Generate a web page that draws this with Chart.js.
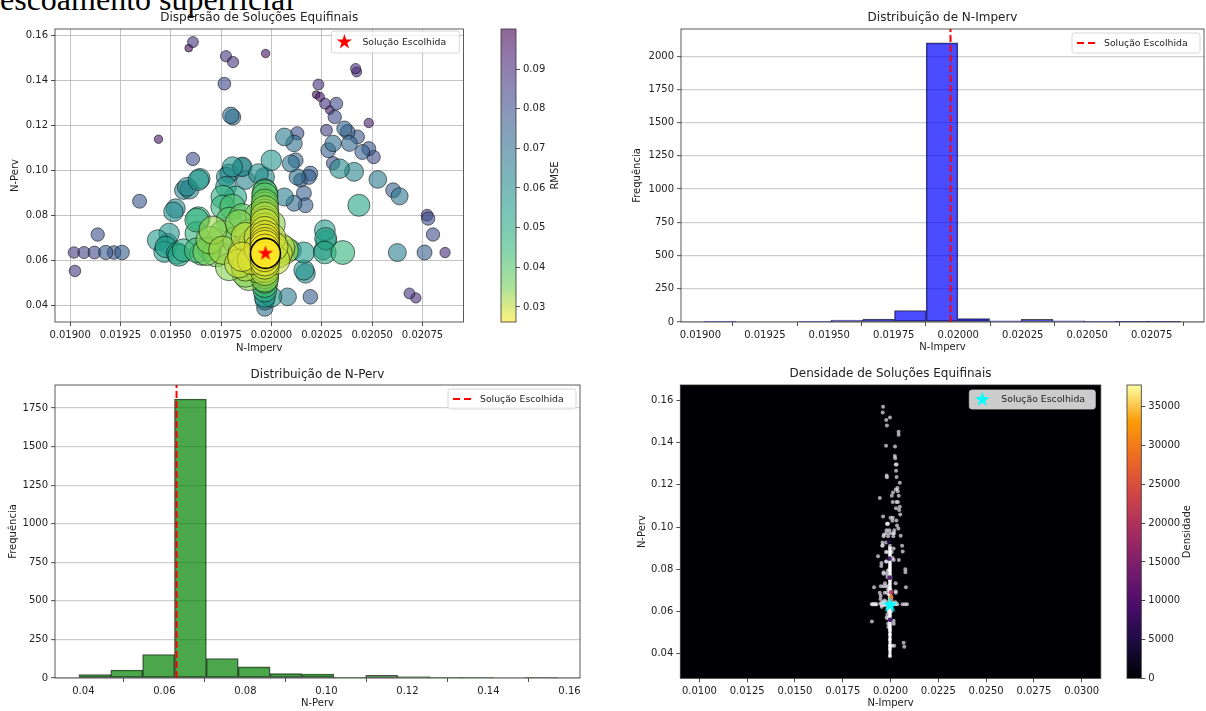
<!DOCTYPE html>
<html lang="pt">
<head>
<meta charset="utf-8">
<title>Soluções Equifinais</title>
<script src="https://cdn.jsdelivr.net/npm/chart.js@4.4.1/dist/chart.umd.min.js"></script>
<style>
  html, body { margin: 0; padding: 0; background: #fff; }
  #page { position: relative; width: 1206px; height: 711px; overflow: hidden; }
  #page canvas { position: absolute; }
  #heading {
    position: absolute; left: 0; top: -19px; line-height: 40px; white-space: nowrap;
    font: 32px "Liberation Serif", "Times New Roman", serif; color: #000;
  }
</style>
</head>
<body>
<div id="page">
  <div id="heading">escoamento superficial</div>
  <canvas id="scatter-chart" style="left:0;top:0" width="480" height="360"></canvas>
  <canvas id="rmse-bar" style="left:480px;top:0" width="120" height="360"></canvas>
  <canvas id="imperv-hist" style="left:600px;top:0" width="606" height="360"></canvas>
  <canvas id="perv-hist" style="left:0;top:350px" width="600" height="361"></canvas>
  <canvas id="density-chart" style="left:600px;top:350px" width="510" height="361"></canvas>
  <canvas id="density-bar" style="left:1110px;top:350px" width="96" height="361"></canvas>
</div>
<script>
'use strict';

// ********** DATA **********

// candidate solutions: N-Imperv, N-Perv and their RMSE
let solImperv = [
  0.019019, 0.019024, 0.019069, 0.019121, 0.019137, 0.019177, 0.019218, 0.019258, 0.019345, 0.019439,
  0.019610, 0.019589, 0.019610, 0.019774, 0.019809, 0.019766, 0.019971, 0.019798, 0.019808, 0.019593,
  0.019564, 0.019637, 0.019513, 0.019435, 0.019475, 0.019540, 0.019492, 0.019468, 0.019524, 0.019484,
  0.019532, 0.019580, 0.019645, 0.019637, 0.019629, 0.019693, 0.019653, 0.019629, 0.019629, 0.019564,
  0.019790, 0.019855, 0.019935, 0.019999, 0.019774, 0.019822, 0.019774, 0.019806, 0.019855, 0.019871,
  0.019967, 0.019758, 0.019790, 0.019855, 0.019887, 0.019822, 0.019758, 0.019725, 0.019855, 0.019903,
  0.019871, 0.019887, 0.019677, 0.019709, 0.019758, 0.019806, 0.019838, 0.019871, 0.019838, 0.019871,
  0.019855, 0.019758, 0.019790, 0.019693, 0.019967, 0.019967, 0.019967, 0.019967, 0.019967, 0.019967,
  0.019967, 0.019967, 0.019967, 0.019967, 0.019967, 0.019967, 0.019967, 0.019967, 0.019967, 0.019967,
  0.019935, 0.020000, 0.020032, 0.020064, 0.019999, 0.020080, 0.020096, 0.020161, 0.020193, 0.020272,
  0.020257, 0.020161, 0.020064, 0.020096, 0.020128, 0.020193, 0.020064, 0.020112, 0.020128, 0.020306,
  0.020418, 0.020423, 0.020233, 0.020222, 0.020241, 0.020266, 0.020322, 0.020290, 0.020314, 0.020483,
  0.020362, 0.020378, 0.020273, 0.020427, 0.020387, 0.020306, 0.020483, 0.020282, 0.020451, 0.020507,
  0.020338, 0.020410, 0.020185, 0.020528, 0.020604, 0.020636, 0.020434, 0.020169, 0.020773, 0.020778,
  0.020802, 0.020862, 0.020760, 0.020625, 0.020354, 0.020265, 0.020269, 0.020265, 0.020161, 0.020169,
  0.020685, 0.020717, 0.020120, 0.020145, 0.020112, 0.019967, 0.019967, 0.019967, 0.019967, 0.019967,
  0.019967, 0.019967, 0.019967, 0.019967, 0.019967, 0.019967, 0.019967, 0.019967, 0.019967, 0.019967,
  0.019935, 0.019935, 0.019920, 0.019935, 0.019910, 0.020010, 0.020020, 0.020000, 0.020045
];
let solPerv = [
  0.0634, 0.0552, 0.0634, 0.0634, 0.0714, 0.0634, 0.0634, 0.0634, 0.0862, 0.1138,
  0.1050, 0.1543, 0.1570, 0.1507, 0.1481, 0.1385, 0.1519, 0.1244, 0.1236, 0.0914,
  0.0911, 0.0956, 0.0815, 0.0689, 0.0659, 0.0622, 0.0719, 0.0637, 0.0830, 0.0674,
  0.0630, 0.0926, 0.0963, 0.0785, 0.0719, 0.0652, 0.0630, 0.0778, 0.0644, 0.0644,
  0.0985, 0.1015, 0.0985, 0.1044, 0.0926, 0.0881, 0.0970, 0.1015, 0.1015, 0.0956,
  0.0970, 0.0837, 0.0778, 0.0793, 0.0719, 0.0689, 0.0719, 0.0630, 0.0630, 0.0600,
  0.0570, 0.0526, 0.0637, 0.0733, 0.0881, 0.0837, 0.0763, 0.0704, 0.0585, 0.0541,
  0.0615, 0.0644, 0.0570, 0.0689, 0.0911, 0.0870, 0.0844, 0.0810, 0.0778, 0.0745,
  0.0711, 0.0667, 0.0595, 0.0564, 0.0535, 0.0511, 0.0467, 0.0437, 0.0422, 0.0387,
  0.0800, 0.0760, 0.0630, 0.0644, 0.0437, 0.0437, 0.0644, 0.0556, 0.0437, 0.0689,
  0.0644, 0.0898, 0.0881, 0.1030, 0.0970, 0.0985, 0.1148, 0.1119, 0.1164, 0.1031,
  0.1452, 0.1437, 0.1381, 0.1336, 0.1326, 0.1296, 0.1296, 0.1267, 0.1237, 0.1210,
  0.1185, 0.1170, 0.1178, 0.1148, 0.1119, 0.1119, 0.1096, 0.1089, 0.1081, 0.1059,
  0.1007, 0.0993, 0.0970, 0.0959, 0.0911, 0.0884, 0.0844, 0.0844, 0.0800, 0.0785,
  0.0714, 0.0634, 0.0634, 0.0634, 0.0634, 0.0634, 0.0696, 0.0733, 0.0634, 0.0541,
  0.0452, 0.0432, 0.1044, 0.0956, 0.0853, 0.0900, 0.0885, 0.0855, 0.0825, 0.0795,
  0.0765, 0.0730, 0.0695, 0.0680, 0.0650, 0.0615, 0.0580, 0.0550, 0.0520, 0.0490,
  0.0700, 0.0650, 0.0600, 0.0560, 0.0680, 0.0660, 0.0600, 0.0700, 0.0655
];
let solRmse = [
  0.086, 0.086, 0.084, 0.082, 0.080, 0.077, 0.079, 0.076, 0.078, 0.096,
  0.080, 0.098, 0.088, 0.087, 0.087, 0.082, 0.096, 0.070, 0.072, 0.062,
  0.064, 0.056, 0.060, 0.056, 0.054, 0.052, 0.057, 0.055, 0.061, 0.058,
  0.053, 0.062, 0.058, 0.047, 0.047, 0.044, 0.046, 0.046, 0.043, 0.049,
  0.062, 0.060, 0.059, 0.057, 0.056, 0.052, 0.061, 0.058, 0.066, 0.063,
  0.061, 0.046, 0.040, 0.038, 0.034, 0.035, 0.038, 0.036, 0.031, 0.029,
  0.031, 0.034, 0.035, 0.033, 0.047, 0.041, 0.034, 0.030, 0.030, 0.034,
  0.028, 0.032, 0.034, 0.034, 0.048, 0.042, 0.037, 0.034, 0.032, 0.030,
  0.028, 0.027, 0.028, 0.031, 0.034, 0.038, 0.046, 0.055, 0.060, 0.070,
  0.036, 0.034, 0.030, 0.032, 0.056, 0.066, 0.055, 0.058, 0.076, 0.058,
  0.062, 0.075, 0.065, 0.068, 0.070, 0.075, 0.066, 0.070, 0.080, 0.080,
  0.090, 0.091, 0.088, 0.098, 0.094, 0.088, 0.082, 0.095, 0.080, 0.093,
  0.074, 0.075, 0.085, 0.078, 0.072, 0.070, 0.078, 0.075, 0.075, 0.080,
  0.060, 0.062, 0.075, 0.066, 0.075, 0.068, 0.052, 0.075, 0.085, 0.080,
  0.080, 0.090, 0.075, 0.065, 0.046, 0.050, 0.052, 0.056, 0.055, 0.060,
  0.088, 0.090, 0.075, 0.078, 0.072, 0.040, 0.038, 0.035, 0.033, 0.031,
  0.030, 0.029, 0.028, 0.028, 0.027, 0.027, 0.029, 0.031, 0.034, 0.042,
  0.030, 0.029, 0.031, 0.033, 0.031, 0.029, 0.030, 0.030, 0.031
];

// chosen solution
let chosenImperv = 0.01997;
let chosenPerv = 0.0630;
let chosenRmse = 0.0262;

// RMSE colour range
let rmseMin = 0.0262;
let rmseMax = 0.1001;
let rmseTicks = [0.03, 0.04, 0.05, 0.06, 0.07, 0.08, 0.09];

// tick labels
let impervTicks = [0.019, 0.01925, 0.0195, 0.01975, 0.02, 0.02025, 0.0205, 0.02075];
let pervTicks = [0.04, 0.06, 0.08, 0.10, 0.12, 0.14, 0.16];
let pervHistTicks = [0.04, 0.06, 0.08, 0.10, 0.12, 0.14, 0.16];
let freqTicksImperv = [0, 250, 500, 750, 1000, 1250, 1500, 1750, 2000];
let freqTicksPerv = [0, 250, 500, 750, 1000, 1250, 1500, 1750];
let densImpervTicks = [0.0100, 0.0125, 0.0150, 0.0175, 0.0200, 0.0225, 0.0250, 0.0275, 0.0300];
let densityTicks = [0, 5000, 10000, 15000, 20000, 25000, 30000, 35000];

// N-Imperv histogram (15 bins)
let impervBinStart = 0.0190154;
let impervBinEnd = 0.020859;
let impervCounts = [5, 0, 0, 4, 14, 22, 86, 2100, 25, 8, 20, 9, 4, 3, 3];

// N-Perv histogram (15 bins)
let pervBinStart = 0.0389;
let pervBinEnd = 0.1569;
let pervCounts = [22, 52, 152, 1809, 126, 72, 28, 26, 3, 17, 10, 4, 4, 0, 5];

// density map: dense ridge of solutions and its hottest spots
let ridgeImperv = 0.01997;
let ridgePerv = [0.0385, 0.0905];
let peakImperv = [0.02003, 0.02003, 0.02001, 0.01996, 0.01994, 0.01992, 0.01998];
let peakPerv = [0.0668, 0.0690, 0.0650, 0.0760, 0.0850, 0.0930, 0.0560];
let peakDensity = [30000, 21000, 26000, 9000, 7000, 5000, 8000];
let densityMax = 37800;

// ********** STYLE HELPERS **********

const FONT = '"DejaVu Sans", "Noto Sans", sans-serif';
const TXT = '#222';
const VIRIDIS = ['#440154', '#482878', '#3e4989', '#31688e', '#26828e', '#1f9e89', '#35b779', '#6ece58', '#fde725'];
const INFERNO = ['#000004', '#1b0c41', '#4a0c6b', '#781c6d', '#a52c60', '#cf4446', '#ed6925', '#fb9b06', '#fcffa4'];

Chart.defaults.font.family = FONT;
Chart.defaults.color = TXT;

function hexRgb(h) {
  return [parseInt(h.slice(1, 3), 16), parseInt(h.slice(3, 5), 16), parseInt(h.slice(5, 7), 16)];
}

function cmap(stops, t, alpha) {
  t = Math.max(0, Math.min(1, t));
  let pos = t * (stops.length - 1);
  let i = Math.min(Math.floor(pos), stops.length - 2);
  let f = pos - i;
  let a = hexRgb(stops[i]);
  let b = hexRgb(stops[i + 1]);
  let c = a.map((v, k) => Math.round(v + (b[k] - v) * f));
  return `rgba(${c[0]},${c[1]},${c[2]},${alpha})`;
}

// reversed viridis: low RMSE is yellow
function rmseColor(rmse, alpha) {
  return cmap(VIRIDIS, 1 - (rmse - rmseMin) / (rmseMax - rmseMin), alpha);
}

// better solutions get bigger markers
function bubbleSize(rmse) {
  return 3.6 + 11.4 * (rmseMax - rmse) / (rmseMax - rmseMin);
}

function drawStar(ctx, cx, cy, R, color) {
  let r = R * 0.382;
  ctx.beginPath();
  for (let k = 0; k < 10; k++) {
    let rad = k % 2 ? r : R;
    let ang = -Math.PI / 2 + k * Math.PI / 5;
    let px = cx + rad * Math.cos(ang);
    let py = cy + rad * Math.sin(ang);
    if (k) ctx.lineTo(px, py); else ctx.moveTo(px, py);
  }
  ctx.closePath();
  ctx.fillStyle = color;
  ctx.fill();
}

function starImage(R, color) {
  let c = document.createElement('canvas');
  c.width = c.height = Math.ceil(2 * R + 2);
  drawStar(c.getContext('2d'), c.width / 2, c.height / 2, R, color);
  return c;
}

function roundRectPath(ctx, x, y, w, h, r) {
  ctx.beginPath();
  ctx.moveTo(x + r, y);
  ctx.lineTo(x + w - r, y);
  ctx.arcTo(x + w, y, x + w, y + r, r);
  ctx.lineTo(x + w, y + h - r);
  ctx.arcTo(x + w, y + h, x + w - r, y + h, r);
  ctx.lineTo(x + r, y + h);
  ctx.arcTo(x, y + h, x, y + h - r, r);
  ctx.lineTo(x, y + r);
  ctx.arcTo(x, y, x + r, y, r);
  ctx.closePath();
}

// linear axis with fixed ticks and a fixed box size
function linAxis(o) {
  return {
    type: 'linear',
    position: o.position,
    min: o.min,
    max: o.max,
    afterBuildTicks: scale => { scale.ticks = o.ticks.map(v => ({ value: v })); },
    afterFit: scale => {
      if (scale.isHorizontal()) scale.height = o.size; else scale.width = o.size;
    },
    ticks: { callback: o.fmt, color: TXT, font: { size: 10 }, padding: 3, autoSkip: false, maxRotation: 0, minRotation: 0 },
    grid: {
      drawOnChartArea: !!o.grid,
      color: o.grid || 'rgba(0,0,0,0)',
      lineWidth: o.gridWidth || 1,
      drawTicks: true,
      tickLength: 4,
      tickColor: TXT,
      tickWidth: 0.8
    },
    border: { display: false },
    title: o.title
      ? { display: true, text: o.title, color: TXT, font: { size: 10 }, padding: o.titlePad }
      : { display: false }
  };
}

// ********** PLUGINS **********

// dark background for the density map
const plotBg = {
  id: 'plotBg',
  beforeDraw(chart, args, o) {
    if (!o || !o.color) return;
    let a = chart.chartArea;
    chart.ctx.save();
    chart.ctx.fillStyle = o.color;
    chart.ctx.fillRect(a.left, a.top, a.right - a.left, a.bottom - a.top);
    chart.ctx.restore();
  }
};

// axes spines
const frame = {
  id: 'frame',
  afterDatasetsDraw(chart) {
    let a = chart.chartArea;
    let ctx = chart.ctx;
    ctx.save();
    ctx.strokeStyle = '#333';
    ctx.lineWidth = 0.8;
    ctx.strokeRect(a.left, a.top, a.right - a.left, a.bottom - a.top);
    ctx.restore();
  }
};

const panelTitle = {
  id: 'panelTitle',
  afterDraw(chart, args, o) {
    if (!o || !o.text) return;
    let a = chart.chartArea;
    let ctx = chart.ctx;
    ctx.save();
    ctx.font = `12px ${FONT}`;
    ctx.fillStyle = TXT;
    ctx.textAlign = 'center';
    ctx.textBaseline = 'middle';
    ctx.fillText(o.text, (a.left + a.right) / 2, a.top - o.gap);
    ctx.restore();
  }
};

// colorbar label, reading bottom to top
const sideLabel = {
  id: 'sideLabel',
  afterDraw(chart, args, o) {
    if (!o || !o.text) return;
    let a = chart.chartArea;
    let ctx = chart.ctx;
    ctx.save();
    ctx.translate(o.x, (a.top + a.bottom) / 2);
    ctx.rotate(-Math.PI / 2);
    ctx.font = `10px ${FONT}`;
    ctx.fillStyle = TXT;
    ctx.textAlign = 'center';
    ctx.textBaseline = 'middle';
    ctx.fillText(o.text, 0, 0);
    ctx.restore();
  }
};

// framed legend in the upper right corner of the plot
const boxLegend = {
  id: 'boxLegend',
  afterDraw(chart, args, o) {
    if (!o || !o.text) return;
    let a = chart.chartArea;
    let ctx = chart.ctx;
    let x = a.right - o.right - o.width;
    let y = a.top + o.top;
    let cy = y + o.height / 2;
    ctx.save();
    roundRectPath(ctx, x, y, o.width, o.height, 2.5);
    ctx.fillStyle = o.fill;
    ctx.fill();
    ctx.lineWidth = 0.8;
    ctx.strokeStyle = '#cccccc';
    ctx.stroke();
    if (o.marker === 'dash') {
      ctx.beginPath();
      ctx.setLineDash([7, 4]);
      ctx.moveTo(x + 5, cy);
      ctx.lineTo(x + 23, cy);
      ctx.strokeStyle = o.color;
      ctx.lineWidth = 2;
      ctx.stroke();
      ctx.setLineDash([]);
    } else {
      drawStar(ctx, x + 13, cy, 8, o.color);
    }
    ctx.font = `9.3px ${FONT}`;
    ctx.fillStyle = TXT;
    ctx.textAlign = 'left';
    ctx.textBaseline = 'middle';
    ctx.fillText(o.text, x + o.textX, cy + 0.5);
    ctx.restore();
  }
};

Chart.register(plotBg, frame, panelTitle, sideLabel, boxLegend);

function baseOptions(padding) {
  return {
    responsive: false,
    animation: false,
    events: [],
    layout: { padding: padding },
    plugins: { legend: { display: false }, tooltip: { enabled: false } }
  };
}

// ********** SCATTER: DISPERSÃO DE SOLUÇÕES EQUIFINAIS **********

let order = solRmse.map((v, i) => i).sort((a, b) => solRmse[b] - solRmse[a]);
let cloud = order.map(i => ({ x: solImperv[i], y: solPerv[i], r: bubbleSize(solRmse[i]) }));
let cloudColors = order.map(i => rmseColor(solRmse[i], 0.6));

let scatterOpts = baseOptions({ top: 29, right: 5, left: 0, bottom: 0 });
scatterOpts.plugins.panelTitle = { text: 'Dispersão de Soluções Equifinais', gap: 11 };
scatterOpts.plugins.boxLegend = { text: 'Solução Escolhida', marker: 'star', color: 'red', fill: 'rgba(255,255,255,0.8)', width: 128, height: 22, right: 4, top: 2, textX: 31 };
scatterOpts.scales = {
  x: linAxis({ position: 'bottom', min: 0.018925, max: 0.020953, ticks: impervTicks, fmt: v => v.toFixed(5), size: 38,
    grid: 'rgba(176,176,176,0.75)', title: 'N-Imperv', titlePad: { top: 0, bottom: 6 } }),
  y: linAxis({ position: 'left', min: 0.0325, max: 0.1628, ticks: pervTicks, fmt: v => v.toFixed(2), size: 55,
    grid: 'rgba(176,176,176,0.75)', title: 'N-Perv', titlePad: { top: 9, bottom: 0 } })
};

new Chart(document.getElementById('scatter-chart'), {
  type: 'bubble',
  data: {
    datasets: [
      { data: [{ x: chosenImperv, y: chosenPerv, r: 8 }], pointStyle: starImage(8, 'red'), borderWidth: 0 },
      { data: [{ x: chosenImperv, y: chosenPerv, r: 15 }], backgroundColor: rmseColor(chosenRmse, 0.9), borderColor: '#000', borderWidth: 1.6 },
      { data: cloud, backgroundColor: cloudColors, borderColor: 'rgba(0,0,0,0.6)', borderWidth: 0.9 }
    ]
  },
  options: scatterOpts
});

// RMSE colorbar
let rmseBarOpts = baseOptions({ top: 29, left: 21, right: 0, bottom: 38 });
rmseBarOpts.plugins.sideLabel = { text: 'RMSE', x: 75 };
rmseBarOpts.scales = {
  x: { display: false },
  y: linAxis({ position: 'right', min: rmseMin, max: rmseMax, ticks: rmseTicks, fmt: v => v.toFixed(2), size: 84 })
};

new Chart(document.getElementById('rmse-bar'), {
  type: 'bar',
  data: {
    labels: ['RMSE'],
    datasets: [{
      data: [[rmseMin, rmseMax]],
      barPercentage: 1,
      categoryPercentage: 1,
      borderWidth: 0,
      backgroundColor: c => {
        let a = c.chart.chartArea;
        if (!a) return 'rgba(0,0,0,0)';
        let g = c.chart.ctx.createLinearGradient(0, a.bottom, 0, a.top);
        VIRIDIS.forEach((col, i) => g.addColorStop(i / (VIRIDIS.length - 1), cmap(VIRIDIS, 1 - i / (VIRIDIS.length - 1), 0.6)));
        return g;
      }
    }]
  },
  options: rmseBarOpts
});

// ********** HISTOGRAMS **********

function histData(start, end, counts) {
  let w = (end - start) / counts.length;
  return counts.map((c, i) => ({ x: start + (i + 0.5) * w, y: c }));
}

function histChart(el, o) {
  let opts = baseOptions(o.padding);
  opts.plugins.panelTitle = { text: o.title, gap: o.titleGap };
  opts.plugins.boxLegend = { text: 'Solução Escolhida', marker: 'dash', color: 'red', fill: 'rgba(255,255,255,0.8)', width: 128, height: 20, right: 4, top: 4, textX: 32 };
  opts.scales = {
    x: Object.assign(linAxis(o.x), { offset: false }),
    y: linAxis(o.y)
  };
  return new Chart(el, {
    type: 'bar',
    data: {
      datasets: [
        {
          type: 'line',
          data: [{ x: o.chosen, y: 0 }, { x: o.chosen, y: o.y.max }],
          borderColor: 'red',
          borderWidth: 2,
          borderDash: [7, 3],
          pointRadius: 0
        },
        {
          type: 'bar',
          data: o.bins,
          backgroundColor: o.color,
          borderColor: 'rgba(0,0,0,0.7)',
          borderWidth: 0.9,
          borderSkipped: false,
          barPercentage: 1,
          categoryPercentage: 1
        }
      ]
    },
    options: opts
  });
}

histChart(document.getElementById('imperv-hist'), {
  title: 'Distribuição de N-Imperv',
  titleGap: 11,
  padding: { top: 29, right: 2, left: 0, bottom: 0 },
  chosen: chosenImperv,
  bins: histData(impervBinStart, impervBinEnd, impervCounts),
  color: 'rgba(0,0,255,0.7)',
  x: { position: 'bottom', min: 0.018925, max: 0.020953, ticks: impervTicks, fmt: v => v.toFixed(5), size: 38,
    title: 'N-Imperv', titlePad: { top: 0, bottom: 6.3 } },
  y: { position: 'left', min: 0, max: 2205, ticks: freqTicksImperv, fmt: v => String(v), size: 81,
    grid: 'rgba(190,190,190,0.75)', gridWidth: 1.3, title: 'Frequência', titlePad: { top: 31.3, bottom: 0 } }
});

histChart(document.getElementById('perv-hist'), {
  title: 'Distribuição de N-Perv',
  titleGap: 10,
  padding: { top: 35, right: 20, left: 0, bottom: 0 },
  chosen: chosenPerv,
  bins: histData(pervBinStart, pervBinEnd, pervCounts),
  color: 'rgba(0,128,0,0.7)',
  x: { position: 'bottom', min: 0.0330, max: 0.1626, ticks: pervHistTicks, fmt: v => v.toFixed(2), size: 33,
    title: 'N-Perv', titlePad: { top: 0, bottom: 1.7 } },
  y: { position: 'left', min: 0, max: 1900, ticks: freqTicksPerv, fmt: v => String(v), size: 55,
    grid: 'rgba(190,190,190,0.75)', gridWidth: 1.3, title: 'Frequência', titlePad: { top: 7.3, bottom: 0 } }
});

// ********** DENSIDADE DE SOLUÇÕES EQUIFINAIS **********

let densOpts = baseOptions({ top: 35, right: 9.2, left: 0, bottom: 0 });
densOpts.plugins.plotBg = { color: '#000004' };
densOpts.plugins.panelTitle = { text: 'Densidade de Soluções Equifinais', gap: 11 };
densOpts.plugins.boxLegend = { text: 'Solução Escolhida', marker: 'star', color: 'cyan', fill: 'rgba(204,204,204,1)', width: 126, height: 19, right: 5.5, top: 5, textX: 32 };
densOpts.scales = {
  x: linAxis({ position: 'bottom', min: 0.009, max: 0.031, ticks: densImpervTicks, fmt: v => v.toFixed(4), size: 32.7,
    title: 'N-Imperv', titlePad: { top: 0, bottom: 1.7 } }),
  y: linAxis({ position: 'left', min: 0.0283, max: 0.1673, ticks: pervTicks, fmt: v => v.toFixed(2), size: 80.3,
    title: 'N-Perv', titlePad: { top: 36.5, bottom: 0 } })
};

new Chart(document.getElementById('density-chart'), {
  type: 'scatter',
  data: {
    datasets: [
      { data: [{ x: chosenImperv, y: chosenPerv }], pointStyle: starImage(8.5, 'cyan'), pointRadius: 8 },
      {
        data: peakImperv.map((v, i) => ({ x: v, y: peakPerv[i] })),
        backgroundColor: peakDensity.map(d => cmap(INFERNO, d / densityMax, 0.9)),
        borderWidth: 0,
        pointRadius: 2.4
      },
      {
        data: [{ x: ridgeImperv, y: ridgePerv[0] }, { x: ridgeImperv, y: ridgePerv[1] }],
        showLine: true,
        borderColor: 'rgba(255,255,255,0.95)',
        borderWidth: 3,
        pointRadius: 0
      },
      {
        data: solImperv.map((v, i) => ({ x: v, y: solPerv[i] })),
        backgroundColor: 'rgba(232,230,240,0.7)',
        borderWidth: 0,
        pointRadius: 2
      }
    ]
  },
  options: densOpts
});

// density colorbar
let densBarOpts = baseOptions({ top: 35, left: 17, right: 0, bottom: 32.7 });
densBarOpts.plugins.sideLabel = { text: 'Densidade', x: 77 };
densBarOpts.scales = {
  x: { display: false },
  y: linAxis({ position: 'right', min: 0, max: densityMax, ticks: densityTicks, fmt: v => String(v), size: 64.7 })
};

new Chart(document.getElementById('density-bar'), {
  type: 'bar',
  data: {
    labels: ['Densidade'],
    datasets: [{
      data: [[0, densityMax]],
      barPercentage: 1,
      categoryPercentage: 1,
      borderWidth: 0,
      backgroundColor: c => {
        let a = c.chart.chartArea;
        if (!a) return 'rgba(0,0,0,0)';
        let g = c.chart.ctx.createLinearGradient(0, a.bottom, 0, a.top);
        INFERNO.forEach((col, i) => g.addColorStop(i / (INFERNO.length - 1), col));
        return g;
      }
    }]
  },
  options: densBarOpts
});
</script>
</body>
</html>
